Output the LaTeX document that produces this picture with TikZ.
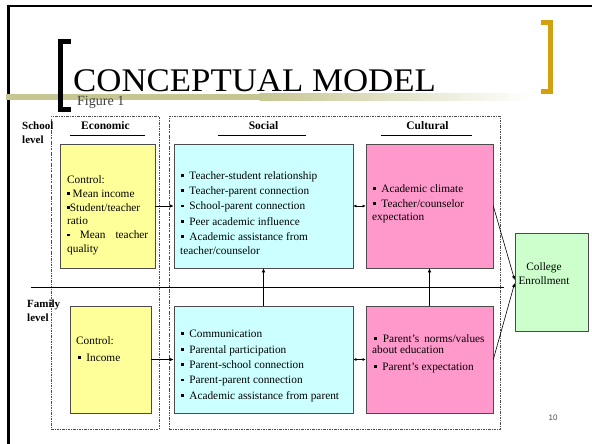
\documentclass[tikz,border=0pt]{standalone}
\usepackage{fontspec}
\setmainfont{Liberation Serif}
\newfontfamily\sansf{Liberation Sans}
\usetikzlibrary{arrows.meta}
\newcommand\sqb{\rule[2.3pt]{2.7pt}{2.7pt}}
\definecolor{olivebar}{RGB}{198,198,146}
\definecolor{goldbr}{RGB}{212,160,16}
\definecolor{yfill}{RGB}{255,255,153}
\definecolor{cfill}{RGB}{204,255,255}
\definecolor{pfill}{RGB}{255,153,204}
\definecolor{gfill}{RGB}{204,255,204}
\begin{document}
\begin{tikzpicture}[x=1pt,y=-1pt,
  tx/.style={anchor=base west, inner sep=0, font=\fontsize{11.3}{13}\selectfont},
  hd/.style={anchor=base, inner sep=0, font=\bfseries\fontsize{11.5}{13}\selectfont},
  lv/.style={anchor=base west, inner sep=0, font=\bfseries\fontsize{11}{13}\selectfont},
  box/.style={draw=black!70, line width=0.6pt, inner sep=0},
  dd/.style={draw=black!70, line width=0.5pt, inner sep=0, dash pattern=on 2.5pt off 1.2pt on 0.6pt off 1.2pt},
  arr/.style={-{Latex[length=4pt,width=3.5pt]}, line width=0.6pt},
  darr/.style={{Latex[length=3pt,width=3pt]}-{Latex[length=3pt,width=3pt]}, line width=0.6pt},
  uline/.style={line width=0.7pt}]
\useasboundingbox (0,0) rectangle (592,444);
% slide frame
\draw[line width=3pt] (8.5,5) -- (8.5,444);
\draw[line width=2.5pt] (7,6.2) -- (592,6.2);
% olive bar
\fill[olivebar] (6,94) rectangle (260,100.5);
\shade[left color=olivebar, right color=white] (259.5,94) rectangle (530,100.5);
% brackets
\draw[line width=5pt, line join=miter, line cap=butt] (71,41.5) -- (60.5,41.5) -- (60.5,109.5) -- (71,109.5);
\draw[goldbr, line width=5pt, line join=miter, line cap=butt] (541,22.5) -- (550.5,22.5) -- (550.5,91.5) -- (541,91.5);
% title
\node[anchor=base west, inner sep=0, font=\fontsize{33}{33}\selectfont] (title) at (73,92) {\scalebox{1.055}[1]{CONCEPTUAL MODEL}};
\node[anchor=base west, inner sep=0, font=\fontsize{14}{14}\selectfont, text=black!75] (fig) at (77,106) {Figure 1};
% dashed groups
\node[dd, minimum width=108pt, minimum height=313pt] (gecon) at (105,272.5) {};
\node[dd, minimum width=331pt, minimum height=313pt] (gsoc) at (334.5,272.5) {};
% level labels
\node[lv] (sch1) at (22,129) {School};
\node[lv] (sch2) at (22,143) {level};
\node[lv] (fam1) at (27,307) {Family};
\node[lv] (fam2) at (27,321) {level};
% headers
\node[hd] (hecon) at (105.5,129) {Economic};
\node[hd] (hsoc) at (263.5,129) {Social};
\node[hd] (hcul) at (427.5,129) {Cultural};
\draw[uline] (70,135) -- (145,135);
\draw[uline] (218,135) -- (306,135);
\draw[uline] (381,135) -- (472,135);
% level divider
\coordinate (divL) at (31,287);
\coordinate (divR) at (504,287);
\draw[line width=0.8pt] (divL) -- (divR);
% boxes
\node[box, fill=yfill, minimum width=95pt, minimum height=124pt] (ys) at (107.5,206) {};
\node[box, fill=cfill, minimum width=179pt, minimum height=124pt] (cs) at (263.5,206) {};
\node[box, fill=pfill, minimum width=127pt, minimum height=124pt] (ps) at (429.5,206) {};
\node[box, fill=yfill, minimum width=81pt, minimum height=107pt] (yf) at (110.5,359.5) {};
\node[box, fill=cfill, minimum width=179pt, minimum height=107pt] (cf) at (263.5,359.5) {};
\node[box, fill=pfill, minimum width=127pt, minimum height=107pt] (pf) at (429.5,359.5) {};
\node[box, fill=gfill, minimum width=73pt, minimum height=98pt] (ge) at (551.5,282) {};
% yellow school text
\node[tx] (ys1) at (67,183) {Control:};
\node[tx] (ys2) at (67,197) {\sqb\ Mean income};
\node[tx] (ys3) at (67,211) {\sqb Student/teacher};
\node[tx] (ys4) at (67,224.5) {ratio};
\node[tx] (ys5) at (67,238.5) {\makebox[81pt][s]{\sqb\hfill Mean\hfill teacher}};
\node[tx] (ys6) at (67,252.5) {quality};
% cyan school text
\node[tx] (cs1) at (181,179) {\sqb\hspace{5.5pt}Teacher-student relationship};
\node[tx] (cs2) at (181,194) {\sqb\hspace{5.5pt}Teacher-parent connection};
\node[tx] (cs3) at (181,209.5) {\sqb\hspace{5.5pt}School-parent connection};
\node[tx] (cs4) at (181,225) {\sqb\hspace{5.5pt}Peer academic influence};
\node[tx] (cs5) at (181,240) {\sqb\hspace{5.5pt}Academic assistance from};
\node[tx] (cs6) at (180,254) {teacher/counselor};
% pink school text
\node[tx] (ps1) at (373,192) {\sqb\hspace{5.5pt}Academic climate};
\node[tx] (ps2) at (373,207) {\sqb\hspace{5.5pt}Teacher/counselor};
\node[tx] (ps3) at (372,220.5) {expectation};
% green text
\node[anchor=base, inner sep=0, font=\fontsize{11.3}{13}\selectfont] (ge1) at (544,270) {College};
\node[anchor=base, inner sep=0, font=\fontsize{11.3}{13}\selectfont] (ge2) at (544,284.5) {Enrollment};
% yellow family text
\node[tx] (yf1) at (76,344) {Control:};
\node[tx] (yf2) at (78,361) {\sqb\hspace{5.5pt}Income};
% cyan family text
\node[tx] (cf1) at (181,337) {\sqb\hspace{5.5pt}Communication};
\node[tx] (cf2) at (181,353) {\sqb\hspace{5.5pt}Parental participation};
\node[tx] (cf3) at (181,368) {\sqb\hspace{5.5pt}Parent-school connection};
\node[tx] (cf4) at (181,383.5) {\sqb\hspace{5.5pt}Parent-parent connection};
\node[tx] (cf5) at (181,399) {\sqb\hspace{5.5pt}Academic assistance from parent};
% pink family text
\node[tx] (pf1) at (374,342) {\sqb\hspace{6pt}Parent's\hspace{5pt}norms/values};
\node[tx] (pf2) at (372,353.5) {about education};
\node[tx] (pf3) at (374,370) {\sqb\hspace{5.5pt}Parent's expectation};
% page number
\node[anchor=base, inner sep=0, font=\sansf\fontsize{8}{9}\selectfont, text=black!70] (pg) at (553,420) {10};
% connectors
\draw[arr] (ys.east) -- (cs.west);
\draw[arr] (yf.east) -- (cf.west);
\draw[arr] (cf.north) -- (cs.south);
\draw[arr] (pf.north) -- (ps.south);
\draw[darr] (cs.east) -- (ps.west);
\draw[darr] (cf.east) -- (pf.west);
\draw[arr] (ps.east) -- ([yshift=2pt]ge.west);
\draw[arr] (pf.east) -- ([yshift=-1pt]ge.west);
\end{tikzpicture}
\end{document}
